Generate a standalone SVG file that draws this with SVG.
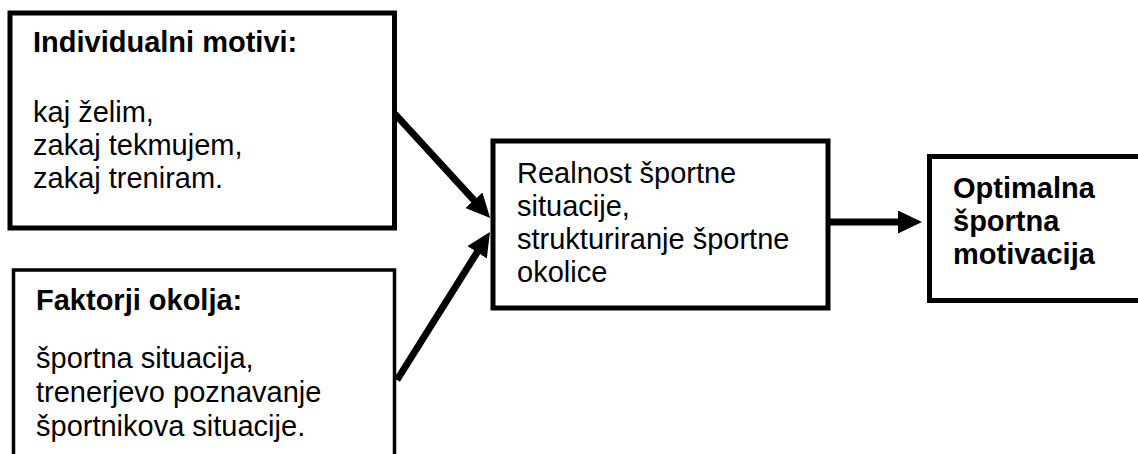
<svg xmlns="http://www.w3.org/2000/svg" width="1138" height="454" viewBox="0 0 1138 454">
<defs>
<style>
.box{fill:#fff;stroke:#000;stroke-width:5}
.thin{stroke-width:3.5}
.t{font-family:"Liberation Sans",Arial,sans-serif;font-size:29px;fill:#000}
.b{font-weight:bold}
.conn{stroke:#000;stroke-width:7;fill:none}
</style>
<marker id="ah" markerUnits="userSpaceOnUse" markerWidth="26" markerHeight="24" refX="2" refY="11.5" orient="auto">
<path d="M0,0 L24,11.5 L0,23 z" fill="#000"/>
</marker>
</defs>
<rect width="1138" height="454" fill="#fff"/>
<g id="connectors">
<line class="conn" x1="395" y1="114" x2="475.3" y2="201.7" marker-end="url(#ah)"/>
<line class="conn" x1="397" y1="380" x2="478.2" y2="250.6" marker-end="url(#ah)"/>
<line class="conn" x1="830" y1="222" x2="900" y2="222" marker-end="url(#ah)"/>
</g>
<g id="individualni">
<rect class="box" x="10" y="13" width="384.5" height="215"/>
<text class="t b" x="33" y="52">Individualni motivi:</text>
<text class="t" x="33" y="122">kaj želim,</text>
<text class="t" x="33" y="155">zakaj tekmujem,</text>
<text class="t" x="33" y="188">zakaj treniram.</text>
</g>
<g id="faktorji">
<rect class="box thin" x="13.5" y="270" width="381" height="200"/>
<text class="t b" x="36" y="310">Faktorji okolja:</text>
<text class="t" x="36" y="368">športna situacija,</text>
<text class="t" x="36" y="402">trenerjevo poznavanje</text>
<text class="t" x="36" y="436">športnikova situacije.</text>
</g>
<g id="realnost">
<rect class="box" x="493" y="141" width="335" height="167"/>
<text class="t" x="517" y="183">Realnost športne</text>
<text class="t" x="517" y="216">situacije,</text>
<text class="t" x="517" y="249">strukturiranje športne</text>
<text class="t" x="517" y="282">okolice</text>
</g>
<g id="optimalna">
<rect class="box" x="929.5" y="156.5" width="215" height="144"/>
<text class="t b" x="953" y="198">Optimalna</text>
<text class="t b" x="953" y="231">športna</text>
<text class="t b" x="953" y="264">motivacija</text>
</g>
</svg>
